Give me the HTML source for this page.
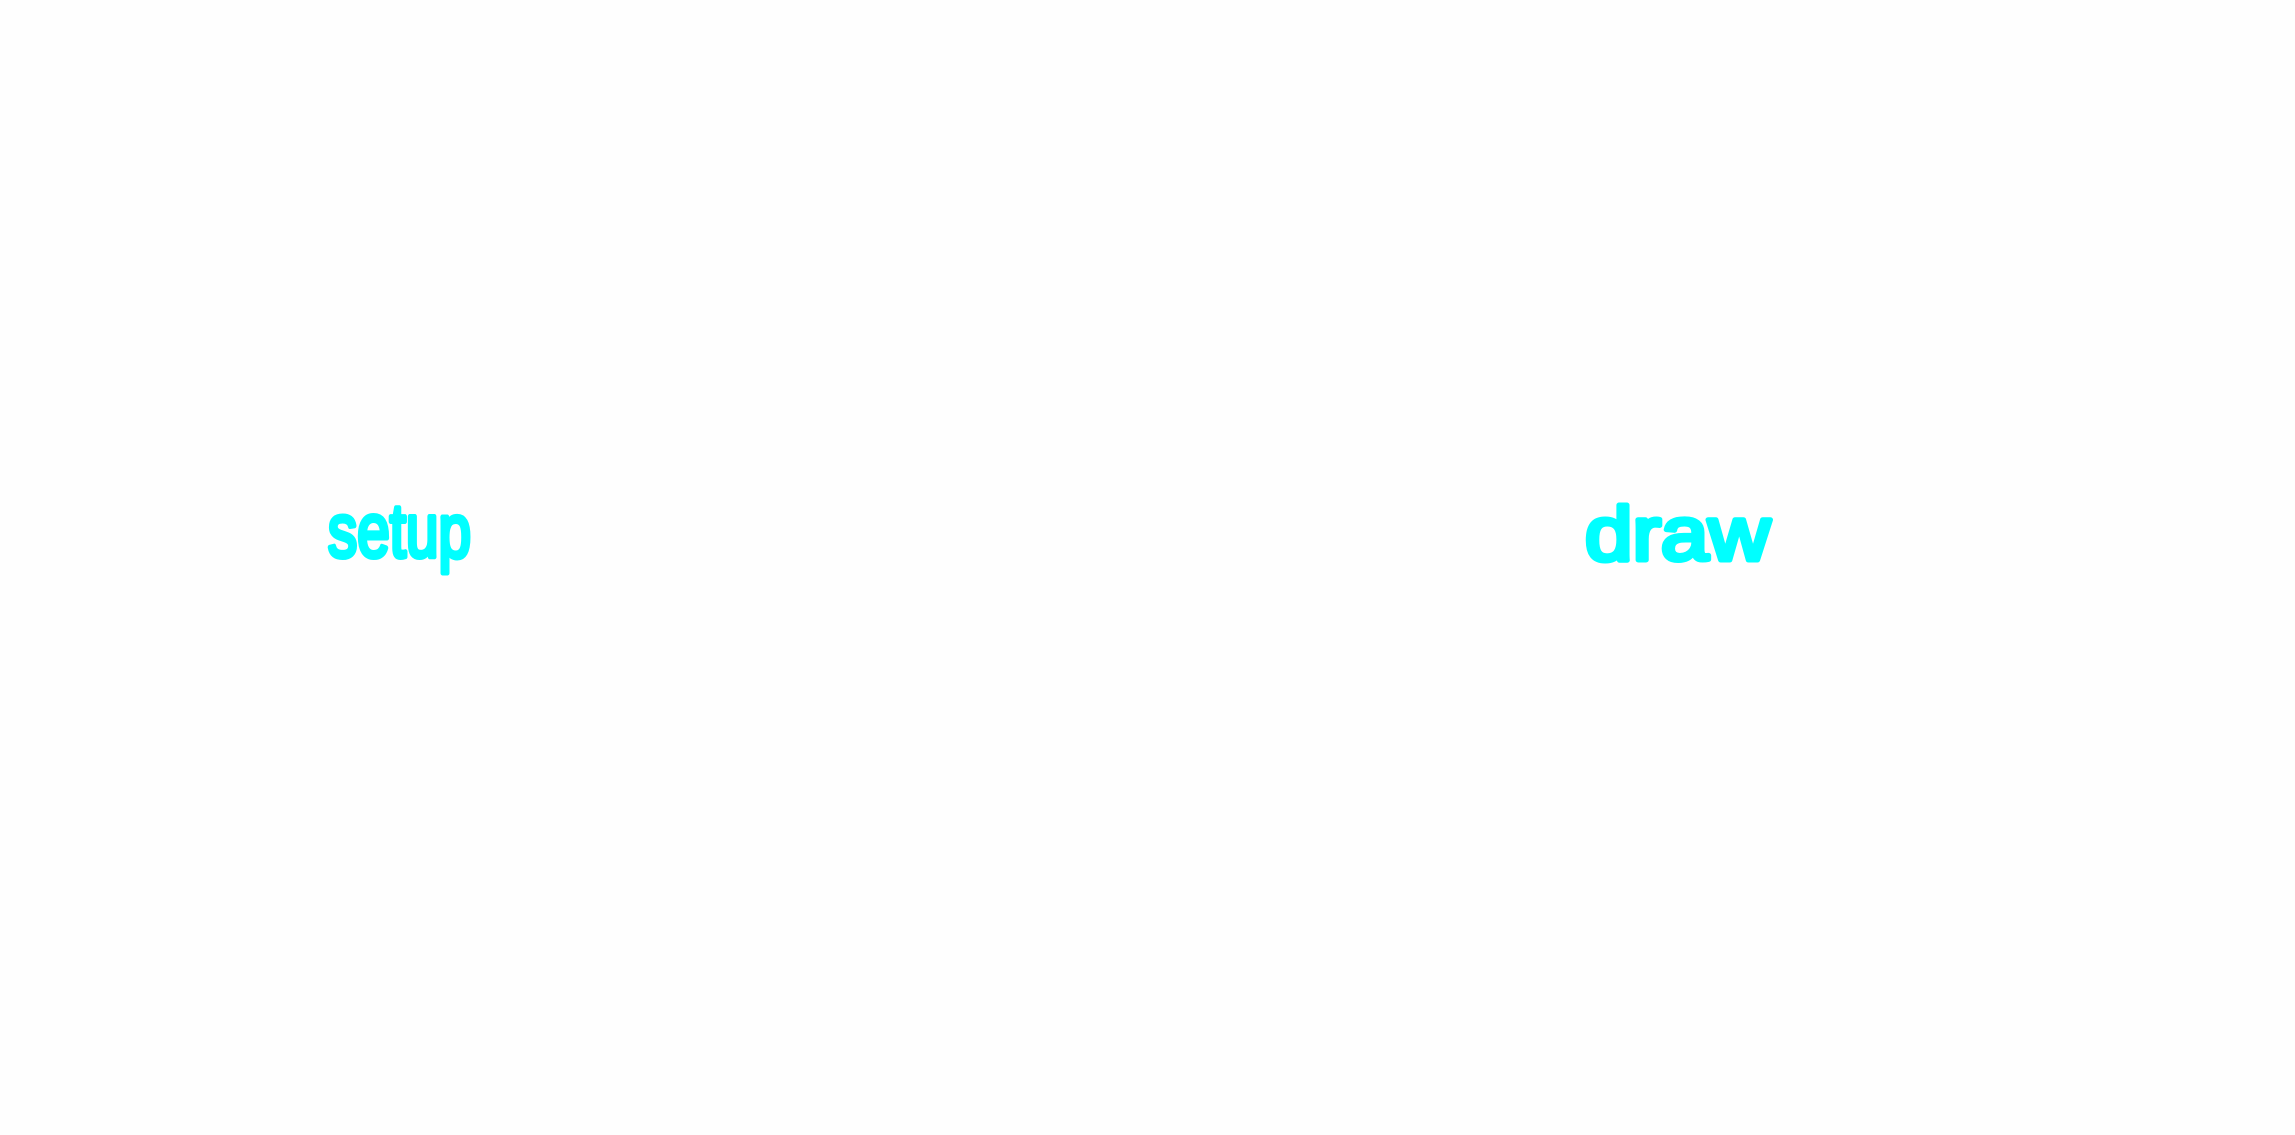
<!DOCTYPE html>
<html>
<head>
<meta charset="utf-8">
<style>
  html, body { margin:0; padding:0; background:#fefefe; }
  #canvas { position:relative; width:2295px; height:1135px; overflow:hidden; background:#fefefe; }
  svg text { font-family:"Liberation Sans", sans-serif; font-weight:normal; fill:#00ffff; stroke:#00ffff; stroke-width:5; stroke-linejoin:round; stroke-linecap:round; }
</style>
</head>
<body>
<div id="canvas">
  <svg width="2295" height="1135" viewBox="0 0 2295 1135">
    <text x="328" y="557" font-size="76" textLength="143" lengthAdjust="spacingAndGlyphs">setup</text>
    <text x="1585" y="560" font-size="76" textLength="185" lengthAdjust="spacingAndGlyphs">draw</text>
  </svg>
</div>
</body>
</html>
